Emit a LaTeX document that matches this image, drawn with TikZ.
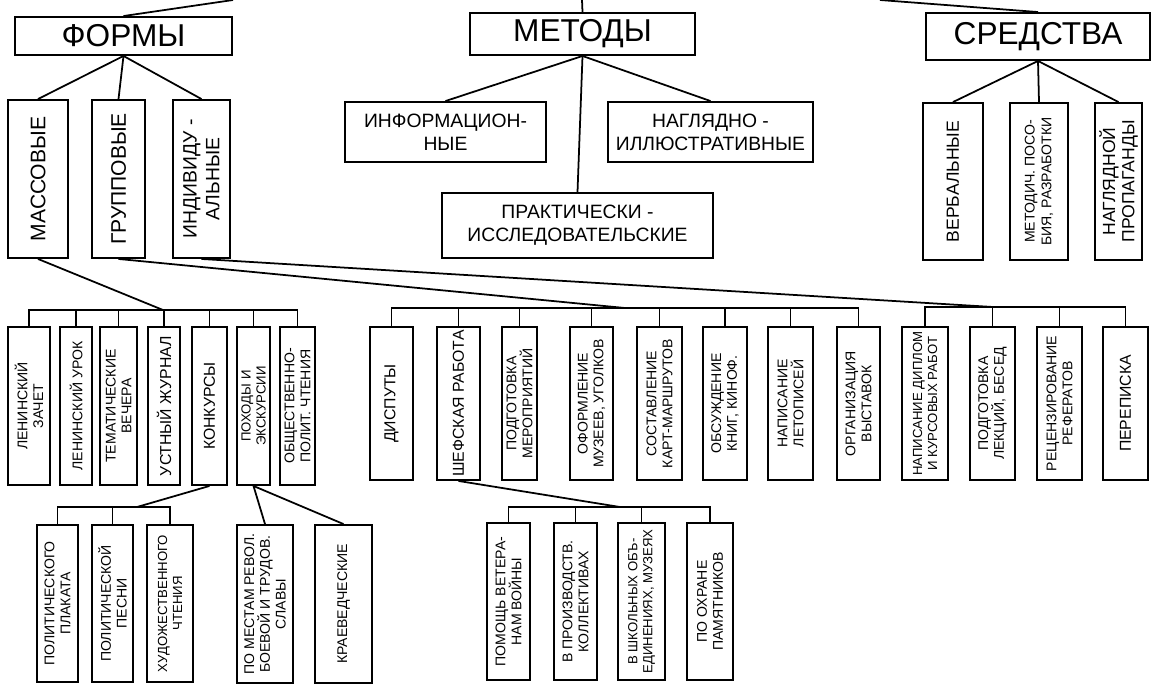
\documentclass[tikz,border=0pt]{standalone}
\usepackage{fontspec}
\setmainfont{Liberation Sans}
\tikzset{
	headbox/.style={draw=black, text=black, shape=rectangle, line width=1.1pt, inner sep=1pt, font=\fontsize{18}{20}\selectfont},
	kindbox/.style={draw=black, text=black, shape=rectangle, line width=1.1pt, inner sep=1pt, align=center, font=\fontsize{11}{13}\selectfont},
	upbox/.style={kindbox, rotate=90},
	itembox/.style={upbox, font=\fontsize{8}{9}\selectfont},
	tightitem/.style={upbox, font=\fontsize{7.5}{8.5}\selectfont},
	bigitem/.style={itembox, font=\fontsize{9}{10}\selectfont},
	link/.style={line width=1pt}
}
\begin{document}
\begin{tikzpicture}[x=0.02cm, y=-0.02cm]
						\useasboundingbox (0,0) rectangle (1155,687);

						\node[headbox, minimum width=4.34cm, minimum height=0.76cm] (top_f) at (123.5,36) {ФОРМЫ};
						\node[headbox, minimum width=4.5cm, minimum height=0.84cm] (top_m) at (582.5,34) {МЕТОДЫ};
						\node[headbox, minimum width=4.48cm, minimum height=0.94cm] (top_s) at (1038,36.5) {СРЕДСТВА};

						\coordinate (in_f) at (233,0);
						\coordinate (in_m) at (582,0);
						\coordinate (in_s) at (880,0);

						\node[upbox, minimum width=3.16cm, minimum height=1.2cm, font=\fontsize{12}{14}\selectfont] (f_1) at (38,179) {МАССОВЫЕ};
						\node[upbox, minimum width=3.16cm, minimum height=1.06cm, font=\fontsize{12}{14}\selectfont] (f_2) at (118.5,179) {ГРУППОВЫЕ};
						\node[upbox, minimum width=3.16cm, minimum height=1.14cm] (f_3) at (201.5,179) {ИНДИВИДУ -\\АЛЬНЫЕ};

						\node[kindbox, minimum width=4.02cm, minimum height=1.2cm] (m_1) at (445.5,132) {ИНФОРМАЦИОН-\\НЫЕ};
						\node[kindbox, minimum width=4.1cm, minimum height=1.2cm] (m_2) at (710.5,132) {НАГЛЯДНО -\\ИЛЛЮСТРАТИВНЫЕ};
						\node[kindbox, minimum width=5.42cm, minimum height=1.3cm] (m_3) at (577.5,225.5) {ПРАКТИЧЕСКИ -\\ИССЛЕДОВАТЕЛЬСКИЕ};

						\node[upbox, minimum width=3.14cm, minimum height=1.2cm, font=\fontsize{10}{11}\selectfont] (s_1) at (953,181.5) {ВЕРБАЛЬНЫЕ};
						\node[upbox, minimum width=3.14cm, minimum height=1.16cm, font=\fontsize{8}{9.5}\selectfont] (s_2) at (1039,181.5) {МЕТОДИЧ. ПОСО-\\БИЯ, РАЗРАБОТКИ};
						\node[upbox, minimum width=3.14cm, minimum height=0.94cm, font=\fontsize{10}{11}\selectfont] (s_3) at (1118.5,181.5) {НАГЛЯДНОЙ\\ПРОПАГАНДЫ};

						\node[itembox, minimum width=3.16cm, minimum height=0.84cm] (a_1) at (29,406) {ЛЕНИНСКИЙ\\ЗАЧЕТ};
						\node[itembox, minimum width=3.16cm, minimum height=0.64cm] (a_2) at (76,406) {ЛЕНИНСКИЙ УРОК};
						\node[itembox, minimum width=3.16cm, minimum height=0.74cm] (a_3) at (118.5,406) {ТЕМАТИЧЕСКИЕ\\ВЕЧЕРА};
						\node[bigitem, minimum width=3.16cm, minimum height=0.64cm] (a_4) at (164,406) {УСТНЫЙ ЖУРНАЛ};
						\node[bigitem, minimum width=3.16cm, minimum height=0.7cm] (a_5) at (209.5,406) {КОНКУРСЫ};
						\node[tightitem, minimum width=3.16cm, minimum height=0.66cm] (a_6) at (253.5,406) {ПОХОДЫ И\\ЭКСКУРСИИ};
						\node[itembox, minimum width=3.16cm, minimum height=0.7cm] (a_7) at (297.5,406) {ОБЩЕСТВЕННО-\\ПОЛИТ. ЧТЕНИЯ};

						\node[bigitem, minimum width=3.06cm, minimum height=0.86cm] (b_1) at (391.5,403.5) {ДИСПУТЫ};
						\node[bigitem, minimum width=3.06cm, minimum height=0.86cm] (b_2) at (458.5,403.5) {ШЕФСКАЯ РАБОТА};
						\node[itembox, minimum width=3.06cm, minimum height=0.7cm] (b_3) at (519.5,403.5) {ПОДГОТОВКА\\МЕРОПРИЯТИЙ};
						\node[itembox, minimum width=3.06cm, minimum height=0.86cm] (b_4) at (591.5,403.5) {ОФОРМЛЕНИЕ\\МУЗЕЕВ, УГОЛКОВ};
						\node[itembox, minimum width=3.06cm, minimum height=0.9cm] (b_5) at (659.5,403.5) {СОСТАВЛЕНИЕ\\КАРТ-МАРШРУТОВ};
						\node[itembox, minimum width=3.06cm, minimum height=0.88cm] (b_6) at (725,403.5) {ОБСУЖДЕНИЕ\\КНИГ, КИНОФ.};
						\node[itembox, minimum width=3.06cm, minimum height=0.9cm] (b_7) at (790.5,403.5) {НАПИСАНИЕ\\ЛЕТОПИСЕЙ};
						\node[itembox, minimum width=3.06cm, minimum height=0.86cm] (b_8) at (858.5,403.5) {ОРГАНИЗАЦИЯ\\ВЫСТАВОК};

						\node[tightitem, minimum width=3.06cm, minimum height=0.92cm] (c_1) at (925,403.5) {НАПИСАНИЕ ДИПЛОМ\\И КУРСОВЫХ РАБОТ};
						\node[itembox, minimum width=3.06cm, minimum height=0.9cm] (c_2) at (992.5,403.5) {ПОДГОТОВКА\\ЛЕКЦИЙ, БЕСЕД};
						\node[itembox, minimum width=3.06cm, minimum height=0.9cm] (c_3) at (1059.5,403.5) {РЕЦЕНЗИРОВАНИЕ\\РЕФЕРАТОВ};
						\node[bigitem, minimum width=3.06cm, minimum height=0.9cm] (c_4) at (1125.5,403.5) {ПЕРЕПИСКА};

						\node[itembox, minimum width=3.14cm, minimum height=0.82cm] (k_1) at (57.5,603.5) {ПОЛИТИЧЕСКОГО\\ПЛАКАТА};
						\node[itembox, minimum width=3.14cm, minimum height=0.82cm] (k_2) at (112.5,603.5) {ПОЛИТИЧЕСКОЙ\\ПЕСНИ};
						\node[tightitem, minimum width=3.14cm, minimum height=0.92cm] (k_3) at (170,603.5) {ХУДОЖЕСТВЕННОГО\\ЧТЕНИЯ};

						\node[itembox, minimum width=3.16cm, minimum height=1.12cm] (p_1) at (265,604) {ПО МЕСТАМ РЕВОЛ.\\БОЕВОЙ И ТРУДОВ.\\СЛАВЫ};
						\node[itembox, minimum width=3.16cm, minimum height=1.14cm] (p_2) at (343.5,604) {КРАЕВЕДЧЕСКИЕ};

						\node[itembox, minimum width=3.14cm, minimum height=0.86cm] (w_1) at (508.5,601.5) {ПОМОЩЬ ВЕТЕРА-\\НАМ ВОЙНЫ};
						\node[itembox, minimum width=3.14cm, minimum height=0.86cm] (w_2) at (575.5,601.5) {В ПРОИЗВОДСТВ.\\КОЛЛЕКТИВАХ};
						\node[tightitem, minimum width=3.14cm, minimum height=0.94cm] (w_3) at (641.5,601.5) {В ШКОЛЬНЫХ ОБЪ-\\ЕДИНЕНИЯХ, МУЗЕЯХ};
						\node[itembox, minimum width=3.14cm, minimum height=0.92cm] (w_4) at (710,601.5) {ПО ОХРАНЕ\\ПАМЯТНИКОВ};

						\coordinate (j_a) at (163,310);
						\coordinate (j_b) at (625,308);
						\coordinate (j_c) at (993,307);
						\coordinate (j_k) at (137,507);
						\coordinate (j_w) at (620,507);

						\draw[link] (in_f) -- (top_f.north);
						\draw[link] (in_m) -- (top_m.north);
						\draw[link] (in_s) -- (top_s.north);

						\draw[link] (top_f.south) -- (f_1.east);
						\draw[link] (top_f.south) -- (f_2.east);
						\draw[link] (top_f.south) -- (f_3.east);
						\draw[link] (top_m.south) -- (m_1.north);
						\draw[link] (top_m.south) -- (m_2.north);
						\draw[link] (top_m.south) -- (m_3.north);
						\draw[link] (top_s.south) -- (s_1.east);
						\draw[link] (top_s.south) -- (s_2.east);
						\draw[link] (top_s.south) -- (s_3.east);

						\draw[link] (f_1.west) -- (j_a);
						\draw[link] (a_1.east) |- (j_a) -| (a_7.east);
						\draw[link] (a_2.east) -- (a_2.east |- j_a);
						\draw[link] (a_3.east) -- (a_3.east |- j_a);
						\draw[link] (a_4.east) -- (a_4.east |- j_a);
						\draw[link] (a_5.east) -- (a_5.east |- j_a);
						\draw[link] (a_6.east) -- (a_6.east |- j_a);

						\draw[link] (f_2.west) -- (j_b);
						\draw[link] (b_1.east) |- (j_b) -| (b_8.east);
						\draw[link] (b_2.east) -- (b_2.east |- j_b);
						\draw[link] (b_3.east) -- (b_3.east |- j_b);
						\draw[link] (b_4.east) -- (b_4.east |- j_b);
						\draw[link] (b_5.east) -- (b_5.east |- j_b);
						\draw[link] (b_6.east) -- (b_6.east |- j_b);
						\draw[link] (b_7.east) -- (b_7.east |- j_b);

						\draw[link] (f_3.west) -- (j_c);
						\draw[link] (c_1.east) |- (j_c) -| (c_4.east);
						\draw[link] (c_2.east) -- (c_2.east |- j_c);
						\draw[link] (c_3.east) -- (c_3.east |- j_c);

						\draw[link] (a_5.west) -- (j_k);
						\draw[link] (k_1.east) |- (j_k) -| (k_3.east);
						\draw[link] (k_2.east) -- (k_2.east |- j_k);

						\draw[link] (a_6.west) -- (p_1.east);
						\draw[link] (a_6.west) -- (p_2.east);

						\draw[link] (b_2.west) -- (j_w);
						\draw[link] (w_1.east) |- (j_w) -| (w_4.east);
						\draw[link] (w_2.east) -- (w_2.east |- j_w);
						\draw[link] (w_3.east) -- (w_3.east |- j_w);
					\end{tikzpicture}
\end{document}
